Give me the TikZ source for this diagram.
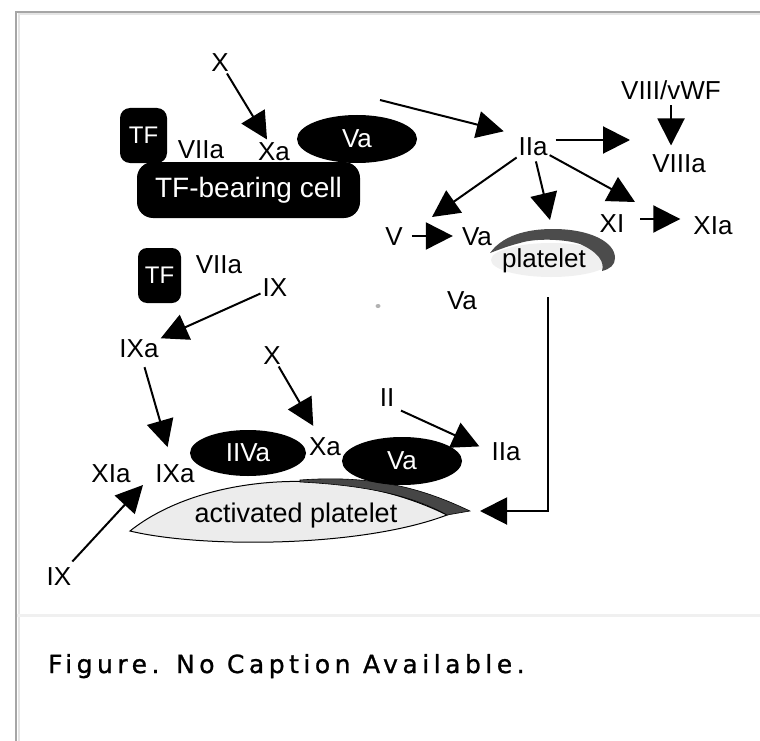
\documentclass[tikz,border=0pt]{standalone}
\usepackage{fontspec}
\setmainfont{Liberation Sans}
\newfontfamily\capfont[LetterSpace=18,FakeBold=1]{DejaVu Sans}
\usetikzlibrary{arrows.meta,shapes.geometric}
\begin{document}
\begin{tikzpicture}[x=1pt,y=-1pt,
  lbl/.style={font=\fontsize{26}{30}\selectfont, inner sep=2pt, text height=18.6pt, text depth=0pt},
  arr/.style={line width=2pt, -{Triangle[length=27pt,width=27pt]}},
  blk/.style={fill=black, text=white, inner sep=0pt, font=\fontsize{26}{30}\selectfont},
  cellbox/.style={blk, rounded corners=16pt, minimum width=223pt, minimum height=56pt, font=\fontsize{28}{32}\selectfont},
  tfbox/.style={blk, rounded corners=10pt, minimum height=55pt, font=\fontsize{24}{28}\selectfont},
  blob/.style={blk, ellipse, minimum width=120pt, minimum height=48pt}]
\useasboundingbox[fill=white] (0,0) rectangle (760,741);
% frame
\draw[gray!20, line width=2pt] (18.5,741) -- (18.5,14.5) -- (760,14.5);
\draw[gray!70, line width=2pt] (16,741) -- (16,12) -- (760,12);
\draw[gray!12, line width=3pt] (17,615) -- (760,615);
\node[anchor=base west, inner sep=0pt, font=\capfont\fontsize{25}{30}\selectfont] (cap) at (48,673) {Figure. No Caption Available.};

% TF-bearing cell
\node[cellbox] (cell) at (248.5,190) {TF-bearing cell};
\node[tfbox, minimum width=47pt] (tf1) at (143.5,135.5) {TF};
\node[blob] (va1) at (357,139) {Va};
\node[lbl] (X1) at (220,62) {X};
\node[lbl] (VIIa1) at (201,149) {VIIa};
\node[lbl] (Xa1) at (274,151) {Xa};

% thrombin and products
\node[lbl] (IIa1) at (533,146) {IIa};
\node[lbl] (VIII) at (671,90) {VIII/vWF};
\node[lbl] (VIIIa) at (679,163) {VIIIa};
\node[lbl] (V) at (394,236) {V};
\node[lbl] (Va2) at (477,236) {Va};
\node[lbl] (XI) at (612,223) {XI};
\node[lbl] (XIa1) at (713,225) {XIa};

% platelet (upper)
\fill[gray!12] (551,260) ellipse (60pt and 17pt);
\fill[gray!60!black] (490,253) .. controls (505,232) and (535,229) .. (553,229)
  .. controls (590,229) and (615,242) .. (615,258)
  .. controls (615,265) and (610,269) .. (602,271)
  .. controls (605,262) and (598,252) .. (580,244)
  .. controls (565,239) and (535,238) .. (520,243)
  .. controls (508,246) and (498,250) .. cycle;
\node[anchor=base, inner sep=2pt, font=\fontsize{26}{30}\selectfont] (plt) at (544,267) {platelet};

% second TF complex
\node[tfbox, minimum width=43pt, rounded corners=9pt] (tf2) at (159.5,275.5) {TF};
\node[lbl] (VIIa2) at (219,264) {VIIa};
\node[lbl] (IX1) at (275,287) {IX};
\node[lbl] (IXa1) at (139,348) {IXa};
\node[lbl] (Va3) at (462,300) {Va};
\fill[gray!60] (378,306) ellipse (2.5pt and 2pt);
\node[lbl] (X2) at (272,355) {X};
\node[lbl] (II) at (387,397) {II};

% activated platelet
\draw[line width=1pt, fill=gray!15] (130,531) .. controls (200,475) and (340,462) .. (447,515)
  .. controls (360,548) and (200,548) .. cycle;
\draw[line width=0.6pt, fill=gray!55!black] (300,480) .. controls (380,474) and (430,492) .. (470,511)
  -- (447,515) .. controls (420,500) and (380,486) .. (300,482) -- cycle;
\coordinate (aptip) at (468,511);
\node[anchor=base, inner sep=0pt, font=\fontsize{27}{30}\selectfont] (actpl) at (296,522) {activated platelet};
\node[blob, minimum width=116pt, minimum height=46pt] (iiva) at (248,453) {IIVa};
\node[blob] (va4) at (402,461) {Va};
\node[lbl] (IIa2) at (506,451) {IIa};
\node[lbl] (Xa2) at (325,446) {Xa};
\node[lbl] (XIa2) at (111,473) {XIa};
\node[lbl] (IXa2) at (175,473) {IXa};
\node[lbl] (IX2) at (59,576) {IX};

% free ends of connectors
\coordinate (vaout) at (380,100);
\coordinate (viiiconv) at (630,140);
\coordinate (vconv) at (432,217);
\coordinate (pltin) at (550,220);
\coordinate (xiconv) at (635,202);
\coordinate (cplx) at (143,485);
\coordinate (pdown) at (548,297);

% connectors
\draw[arr] (X1) -- (Xa1);
\draw[arr, shorten >=13pt] (vaout) -- (IIa1.north west);
\draw[arr, shorten <=6pt] ([yshift=6pt]IIa1.east) -- (viiiconv);
\draw[arr, shorten <=4pt, shorten >=6pt] (VIII.south) -- (VIII.south |- VIIIa.north);
\draw[arr] (IIa1) -- (vconv);
\draw[arr, shorten <=4pt] ([xshift=2pt]IIa1.south) -- (pltin);
\draw[arr] (IIa1) -- (xiconv);
\draw[arr, shorten <=7pt, shorten >=7pt] (V) -- (Va2);
\draw[arr, shorten <=14pt, shorten >=11pt] ([yshift=4pt]XI.east) -- ([yshift=4pt]XI.east -| XIa1.west);
\draw[arr] (IX1) -- (IXa1);
\draw[arr, shorten <=8pt, shorten >=15pt] (IXa1) -- (IXa2);
\draw[arr, shorten >=10pt] (X2) -- (Xa2);
\draw[arr, shorten <=5pt, shorten >=11pt] (II.south east) -- (IIa2.west);
\draw[arr, shorten <=4pt] (IX2) -- (cplx);
\draw[arr, shorten >=12pt] (pdown) |- (aptip);
\end{tikzpicture}
\end{document}
